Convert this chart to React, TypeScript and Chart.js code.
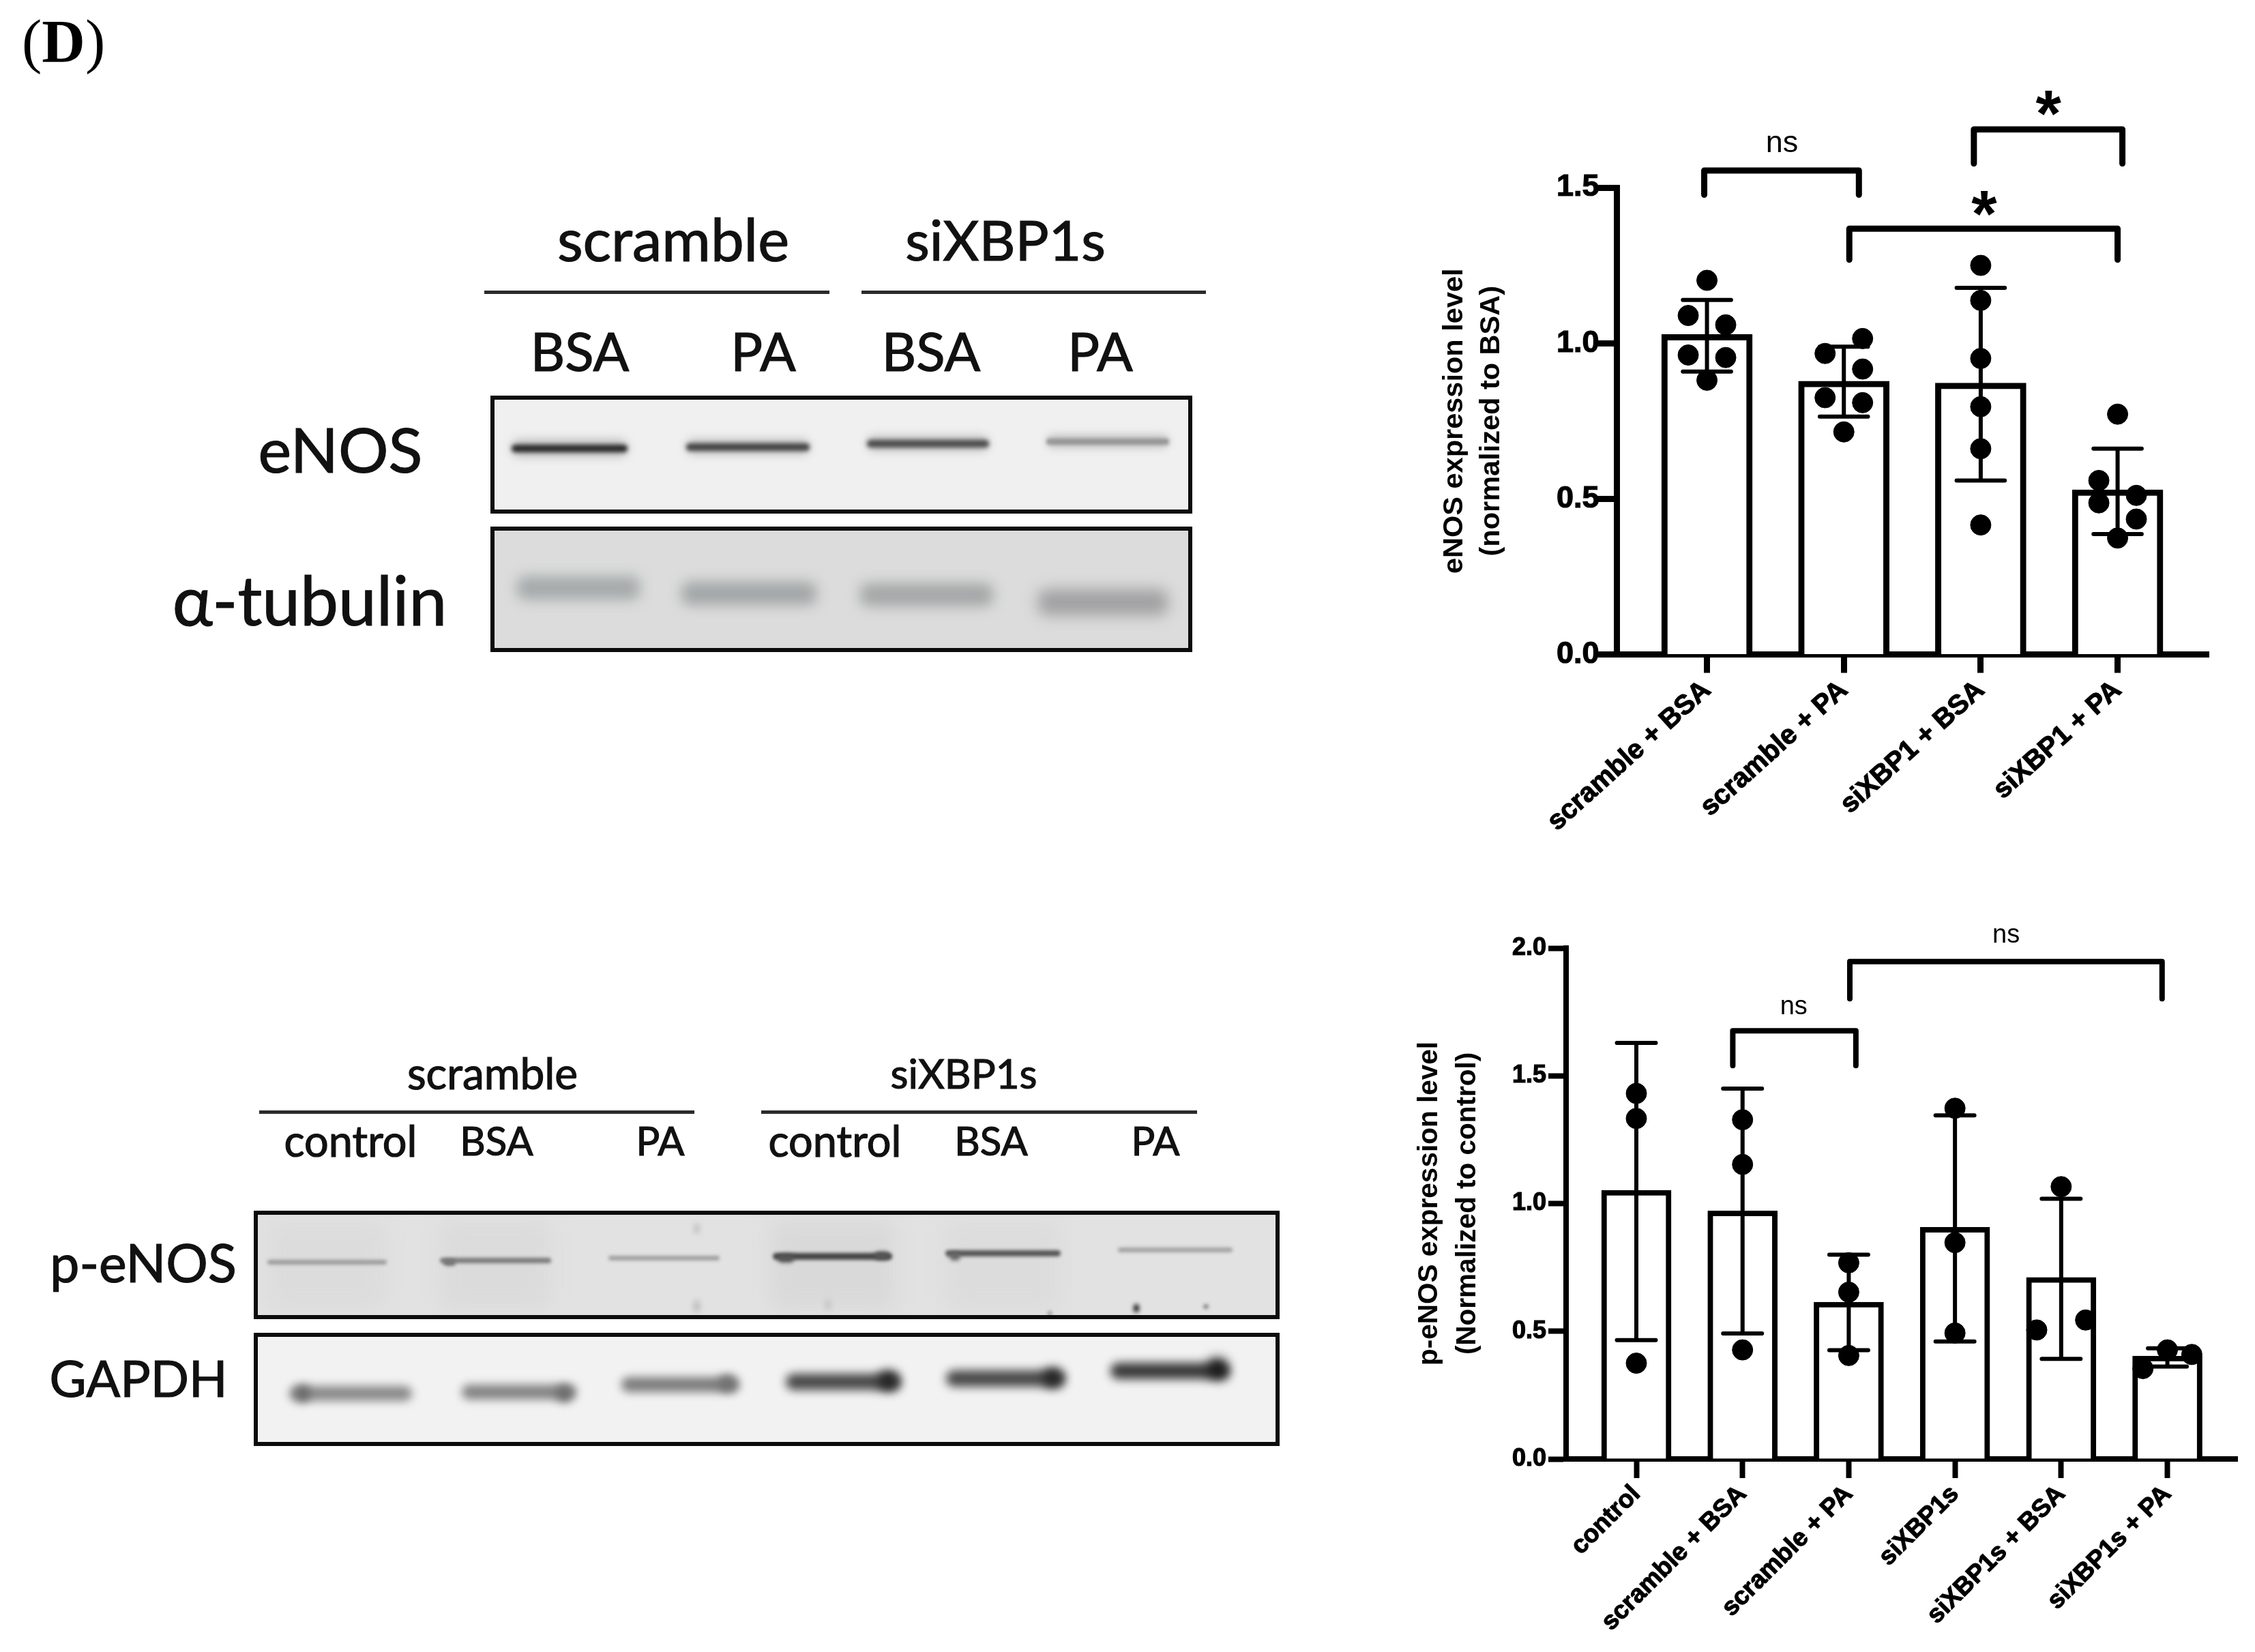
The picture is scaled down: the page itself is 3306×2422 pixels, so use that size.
import { useEffect, useRef } from 'react'
import { Chart, registerables } from 'chart.js'

Chart.register(...registerables)

const SANS = '"Liberation Sans", Arial, sans-serif'
const BLOT_FONT = 'Lato, sans-serif'

// top chart
const enosCategories = ['scramble + BSA', 'scramble + PA', 'siXBP1 + BSA', 'siXBP1 + PA']
const enosMeans = [1.028, 0.878, 0.872, 0.529]
const enosErrLow = [0.909, 0.764, 0.559, 0.387]
const enosErrHigh = [1.139, 0.989, 1.178, 0.661]
const enosPointY = [
  [1.202, 1.089, 1.059, 0.962, 0.954, 0.881],
  [1.015, 0.967, 0.917, 0.825, 0.809, 0.715],
  [1.25, 1.1375, 0.951, 0.796, 0.661, 0.416],
  [0.772, 0.559, 0.511, 0.487, 0.435, 0.374],
]
const enosPointShift = [
  [0, -0.137, 0.137, -0.137, 0.137, 0],
  [0.137, -0.137, 0.137, -0.137, 0.137, 0],
  [0, 0, 0, 0, 0, 0],
  [0, -0.137, 0.137, -0.137, 0.137, 0],
]
const enosTicks = [0, 0.5, 1, 1.5]

// bottom chart
const penosCategories = ['control', 'scramble + BSA', 'scramble + PA', 'siXBP1s', 'siXBP1s + BSA', 'siXBP1s + PA']
const penosMeans = [1.052, 0.971, 0.614, 0.907, 0.711, 0.403]
const penosErrLow = [0.465, 0.4915, 0.4256, 0.46, 0.392, 0.362]
const penosErrHigh = [1.629, 1.45, 0.8, 1.345, 1.019, 0.433]
const penosPointY = [
  [1.431, 1.333, 0.375],
  [1.328, 1.153, 0.427],
  [0.768, 0.653, 0.405],
  [1.373, 0.847, 0.493],
  [1.066, 0.544, 0.505],
  [0.427, 0.409, 0.354],
]
const penosPointShift = [
  [0, 0, 0],
  [0, 0, 0],
  [0, 0, 0],
  [0, 0, 0],
  [0, 0.23, -0.23],
  [0, 0.23, -0.23],
]
const penosTicks = [0, 0.5, 1, 1.5, 2]

type Bracket = { from: number; to: number; top: number; foot: number; label: string; labelX: number; labelY: number }

const enosBrackets: Bracket[] = [
  { from: -0.02, to: 1.11, top: 1.555, foot: 1.477, label: 'ns', labelX: 0.548, labelY: 1.642 },
  { from: 1.95, to: 3.035, top: 1.687, foot: 1.577, label: '*', labelX: 2.495, labelY: 1.764 },
  { from: 1.04, to: 3.0, top: 1.368, foot: 1.268, label: '*', labelX: 2.025, labelY: 1.442 },
]
const penosBrackets: Bracket[] = [
  { from: 0.908, to: 2.067, top: 1.676, foot: 1.54, label: 'ns', labelX: 1.482, labelY: 1.77 },
  { from: 2.01, to: 4.95, top: 1.947, foot: 1.802, label: 'ns', labelX: 3.482, labelY: 2.05 },
]

type PanelProps = {
  left: number
  top: number
  width: number
  height: number
  area: { left: number; right: number; top: number; bottom: number }
  xRange: [number, number]
  categories: string[]
  means: number[]
  errLow: number[]
  errHigh: number[]
  pointY: number[][]
  pointShift: number[][]
  ticks: number[]
  brackets: Bracket[]
  title: string[]
  titleGap: number
  titleFont: number
  titleLine: number
  tickFont: number
  tickGap: number
  labelFont: number
  labelAngle: number
  nsFont: number
  barWidth: number
  lineWidth: number
  capHalf: number
  tickLength: number
  xTickLength: number
}

function BarPanel(p: PanelProps) {
  const canvasRef = useRef<HTMLCanvasElement | null>(null)

  useEffect(() => {
    const ctx = canvasRef.current?.getContext('2d')
    if (!ctx) return

    const marks = {
      id: 'panelMarks',
      afterDatasetsDraw(chart: any) {
        const x = chart.scales.x
        const y = chart.scales.y
        const c = chart.ctx
        c.save()
        c.strokeStyle = '#000'
        c.fillStyle = '#000'
        // error bars
        p.means.forEach((_, i) => {
          const cx = x.getPixelForValue(i)
          const lo = y.getPixelForValue(p.errLow[i])
          const hi = y.getPixelForValue(p.errHigh[i])
          c.lineWidth = 6
          c.lineCap = 'butt'
          c.beginPath()
          c.moveTo(cx, lo)
          c.lineTo(cx, hi)
          c.stroke()
          c.lineCap = 'round'
          c.beginPath()
          c.moveTo(x.getPixelForValue(i - p.capHalf), lo)
          c.lineTo(x.getPixelForValue(i + p.capHalf), lo)
          c.moveTo(x.getPixelForValue(i - p.capHalf), hi)
          c.lineTo(x.getPixelForValue(i + p.capHalf), hi)
          c.stroke()
        })
        // significance brackets
        c.lineWidth = p.lineWidth
        c.lineJoin = 'round'
        c.lineCap = 'round'
        p.brackets.forEach((b) => {
          c.beginPath()
          c.moveTo(x.getPixelForValue(b.from), y.getPixelForValue(b.foot))
          c.lineTo(x.getPixelForValue(b.from), y.getPixelForValue(b.top))
          c.lineTo(x.getPixelForValue(b.to), y.getPixelForValue(b.top))
          c.lineTo(x.getPixelForValue(b.to), y.getPixelForValue(b.foot))
          c.stroke()
          c.textAlign = 'center'
          c.textBaseline = 'middle'
          if (b.label === '*') {
            c.font = `bold 96px ${SANS}`
            c.fillText(b.label, x.getPixelForValue(b.labelX), y.getPixelForValue(b.labelY) + 18)
          } else {
            c.font = `${p.nsFont}px ${SANS}`
            c.fillText(b.label, x.getPixelForValue(b.labelX), y.getPixelForValue(b.labelY))
          }
        })
        c.restore()
      },
    }

    const scatterPoints = p.pointY.flatMap((ys, i) =>
      ys.map((v, k) => ({ x: i + p.pointShift[i][k], y: v })),
    )

    const chart = new Chart(ctx, {
      type: 'bar',
      data: {
        datasets: [
          {
            type: 'scatter',
            data: scatterPoints,
            backgroundColor: '#000',
            borderColor: '#000',
            pointRadius: 15,
            order: 0,
            clip: false,
          } as any,
          {
            type: 'bar',
            data: p.means.map((v, i) => ({ x: i, y: v })),
            backgroundColor: '#fff',
            borderColor: '#000',
            borderWidth: p.lineWidth,
            barThickness: p.barWidth,
            order: 1,
          },
        ],
      },
      plugins: [marks],
      options: {
        animation: false,
        responsive: false,
        devicePixelRatio: 1,
        layout: {
          padding: { top: p.area.top - p.top, right: p.left + p.width - p.area.right, left: 0, bottom: 0 },
        },
        plugins: { legend: { display: false }, tooltip: { enabled: false } },
        scales: {
          x: {
            type: 'linear',
            offset: false,
            min: p.xRange[0],
            max: p.xRange[1],
            afterBuildTicks: (s: any) => {
              s.ticks = p.categories.map((_, i) => ({ value: i }))
            },
            afterFit: (s: any) => {
              s.height = p.top + p.height - p.area.bottom
            },
            border: { color: '#000', width: p.lineWidth },
            grid: {
              offset: false,
              drawOnChartArea: false,
              tickLength: p.xTickLength,
              tickWidth: p.lineWidth,
              tickColor: '#000',
            },
            ticks: {
              autoSkip: false,
              maxRotation: p.labelAngle,
              minRotation: p.labelAngle,
              padding: 2,
              color: '#000',
              textStrokeColor: '#000',
              textStrokeWidth: 1.2,
              font: { family: SANS, size: p.labelFont, weight: 'bold' },
              callback: (v: any) => p.categories[v] ?? '',
            },
          },
          y: {
            min: p.ticks[0],
            max: p.ticks[p.ticks.length - 1],
            afterBuildTicks: (s: any) => {
              s.ticks = p.ticks.map((value) => ({ value }))
            },
            afterFit: (s: any) => {
              s.width = p.area.left - p.left
            },
            border: { color: '#000', width: p.lineWidth },
            grid: { drawOnChartArea: false, tickLength: p.tickLength, tickWidth: p.lineWidth, tickColor: '#000' },
            ticks: {
              padding: p.tickGap,
              color: '#000',
              textStrokeColor: '#000',
              textStrokeWidth: 1.2,
              font: { family: SANS, size: p.tickFont, weight: 'bold' },
              callback: (v: any) => Number(v).toFixed(1),
            },
            title: {
              display: true,
              text: p.title,
              color: '#000',
              padding: { top: p.titleGap, bottom: 0 },
              font: { family: SANS, size: p.titleFont, weight: 'bold', lineHeight: p.titleLine },
            },
          },
        },
      },
    })

    return () => chart.destroy()
  }, [])

  return (
    <canvas
      ref={canvasRef}
      width={p.width}
      height={p.height}
      style={{ position: 'absolute', left: p.left, top: p.top, width: p.width, height: p.height }}
    />
  )
}

function Label({ x, y, size, text }: { x: number; y: number; size: number; text: string }) {
  return (
    <div
      style={{
        position: 'absolute',
        left: x - 400,
        top: y - 100,
        width: 800,
        height: 200,
        lineHeight: '200px',
        textAlign: 'center',
        fontFamily: BLOT_FONT,
        fontSize: size,
        color: '#111',
        whiteSpace: 'nowrap',
        WebkitTextStroke: '1.2px #111',
        filter: 'blur(0.7px)',
      }}
    >
      {text}
    </div>
  )
}

function Rule({ x1, x2, y }: { x1: number; x2: number; y: number }) {
  return <div style={{ position: 'absolute', left: x1, top: y - 2.5, width: x2 - x1, height: 5, background: '#2b2b2b' }} />
}

// one gel panel, bands are [x1, x2, y, thickness, colour]
type Band = [number, number, number, number, string]

function Blot({ x1, x2, y1, y2, bg, bands }: { x1: number; x2: number; y1: number; y2: number; bg: string; bands: Band[] }) {
  return (
    <div
      style={{
        position: 'absolute',
        left: x1,
        top: y1,
        width: x2 - x1,
        height: y2 - y1,
        boxSizing: 'border-box',
        border: '6px solid #0c0c0c',
        background: bg,
        overflow: 'hidden',
      }}
    >
      {bands.map(([a, b, y, h, color], i) => (
        <div
          key={i}
          style={{
            position: 'absolute',
            left: a - x1 - 6,
            top: y - h / 2 - y1 - 6,
            width: b - a,
            height: h,
            borderRadius: Math.min(h / 2, 12),
            background: color,
            filter: `blur(${Math.max(2.5, Math.min(h / 3.5, 14))}px)`,
          }}
        />
      ))}
    </div>
  )
}

const enosBands: Band[] = [
  [750, 920, 657, 24, '#b8b8b8'],
  [750, 920, 657, 11, '#2a2a2a'],
  [1006, 1187, 655, 22, '#bdbdbd'],
  [1006, 1187, 655, 11, '#444'],
  [1271, 1450, 650, 22, '#bdbdbd'],
  [1271, 1450, 650, 11, '#4c4c4c'],
  [1534, 1714, 647, 20, '#c4c4c4'],
  [1534, 1714, 647, 9, '#969696'],
]
const tubulinBands: Band[] = [
  [758, 938, 862, 34, '#a4a9a9'],
  [999, 1197, 870, 34, '#a2a6a6'],
  [1261, 1456, 872, 34, '#a4a7a7'],
  [1522, 1712, 883, 38, '#a0a0a2'],
]
const penosBands: Band[] = [
  // faint lanes
  [392, 566, 1855, 130, '#dcdcdc'],
  [646, 806, 1855, 130, '#dbdbdb'],
  [1130, 1312, 1855, 130, '#d9d9d9'],
  [1386, 1554, 1855, 130, '#dcdcdc'],
  // bands
  [392, 567, 1850, 7, '#9c9c9c'],
  [645, 808, 1848, 8, '#7c7c7c'],
  [892, 1055, 1844, 7, '#a0a0a0'],
  [1133, 1308, 1842, 10, '#444'],
  [1386, 1555, 1837, 9, '#555'],
  [1639, 1807, 1832, 7, '#a2a2a2'],
  // darker band ends
  [1140, 1164, 1845, 12, '#555'],
  [1282, 1304, 1841, 12, '#555'],
  [1392, 1408, 1842, 12, '#666'],
  [650, 668, 1851, 10, '#777'],
  // specks
  [1019, 1024, 1801, 14, '#aaa'],
  [1019, 1024, 1915, 16, '#999'],
  [1212, 1216, 1913, 14, '#aaa'],
  [1662, 1670, 1918, 12, '#222'],
  [1764, 1772, 1915, 7, '#888'],
  [1536, 1542, 1926, 8, '#999'],
]
const gapdhBands: Band[] = [
  [424, 604, 2043, 22, '#8a8a8a'],
  [677, 845, 2041, 22, '#848484'],
  [911, 1084, 2030, 22, '#7c7c7c'],
  [1152, 1321, 2026, 24, '#484848'],
  [1387, 1562, 2021, 24, '#484848'],
  [1628, 1803, 2010, 24, '#383838'],
  // heavier band ends
  [434, 454, 2043, 24, '#666'],
  [816, 838, 2043, 24, '#6a6a6a'],
  [1054, 1078, 2028, 24, '#707070'],
  [1288, 1316, 2024, 28, '#222'],
  [1530, 1556, 2020, 28, '#222'],
  [1772, 1798, 2006, 30, '#151515'],
]

export default function App() {
  useEffect(() => {
    document.body.style.margin = '0'
  }, [])

  return (
    <div style={{ position: 'absolute', left: 0, top: 0, width: 3306, height: 2422, background: '#fff', overflow: 'hidden' }}>
      <div
        style={{
          position: 'absolute',
          left: 32,
          top: 6,
          fontFamily: '"Liberation Serif", serif',
          fontSize: 88,
          lineHeight: '110px',
          color: '#000',
        }}
      >
        (<b>D</b>)
      </div>

      <Label x={987} y={350} size={87} text="scramble" />
      <Label x={1474} y={350} size={82} text="siXBP1s" />
      <Rule x1={710} x2={1216} y={428} />
      <Rule x1={1263} x2={1768} y={428} />
      <Label x={850} y={514} size={78} text="BSA" />
      <Label x={1119} y={514} size={78} text="PA" />
      <Label x={1365} y={514} size={78} text="BSA" />
      <Label x={1613} y={514} size={78} text="PA" />
      <Label x={499} y={658} size={92} text="eNOS" />
      <Label x={454} y={878} size={100} text="α-tubulin" />
      <Blot x1={719} x2={1748} y1={580} y2={753} bg="#f0f0f0" bands={enosBands} />
      <Blot x1={719} x2={1748} y1={772} y2={956} bg="#dcdcdc" bands={tubulinBands} />

      <Label x={722} y={1573} size={64} text="scramble" />
      <Label x={1413} y={1573} size={60} text="siXBP1s" />
      <Rule x1={380} x2={1018} y={1630} />
      <Rule x1={1116} x2={1755} y={1630} />
      <Label x={514} y={1672} size={63} text="control" />
      <Label x={728} y={1672} size={58} text="BSA" />
      <Label x={968} y={1672} size={58} text="PA" />
      <Label x={1224} y={1672} size={63} text="control" />
      <Label x={1453} y={1672} size={58} text="BSA" />
      <Label x={1694} y={1672} size={58} text="PA" />
      <Label x={210} y={1850} size={77} text="p-eNOS" />
      <Label x={203} y={2020} size={74} text="GAPDH" />
      <Blot x1={372} x2={1876} y1={1775} y2={1934} bg="#e2e2e2" bands={penosBands} />
      <Blot x1={372} x2={1876} y1={1954} y2={2120} bg="#f2f2f2" bands={gapdhBands} />

      <BarPanel
        left={2078}
        top={100}
        width={1228}
        height={1150}
        area={{ left: 2370.5, right: 3238, top: 275, bottom: 959.5 }}
        xRange={[-0.658, 3.665]}
        categories={enosCategories}
        means={enosMeans}
        errLow={enosErrLow}
        errHigh={enosErrHigh}
        pointY={enosPointY}
        pointShift={enosPointShift}
        ticks={enosTicks}
        brackets={enosBrackets}
        title={['eNOS expression level', '(normalized to BSA)']}
        titleGap={28}
        titleFont={41.5}
        titleLine={1.3}
        tickFont={45}
        tickGap={-3}
        labelFont={40}
        labelAngle={42}
        nsFont={45}
        barWidth={133}
        lineWidth={9}
        capHalf={0.176}
        tickLength={29}
        xTickLength={27}
      />
      <BarPanel
        left={2040}
        top={1300}
        width={1266}
        height={1122}
        area={{ left: 2296, right: 3280, top: 1390, bottom: 2139 }}
        xRange={[-0.6615, 5.658]}
        categories={penosCategories}
        means={penosMeans}
        errLow={penosErrLow}
        errHigh={penosErrHigh}
        pointY={penosPointY}
        pointShift={penosPointShift}
        ticks={penosTicks}
        brackets={penosBrackets}
        title={['p-eNOS expression level', '(Normalized to control)']}
        titleGap={27}
        titleFont={40.5}
        titleLine={1.4}
        tickFont={36}
        tickGap={3}
        labelFont={37}
        labelAngle={45}
        nsFont={38}
        barWidth={102}
        lineWidth={8}
        capHalf={0.183}
        tickLength={26}
        xTickLength={28}
      />
    </div>
  )
}
